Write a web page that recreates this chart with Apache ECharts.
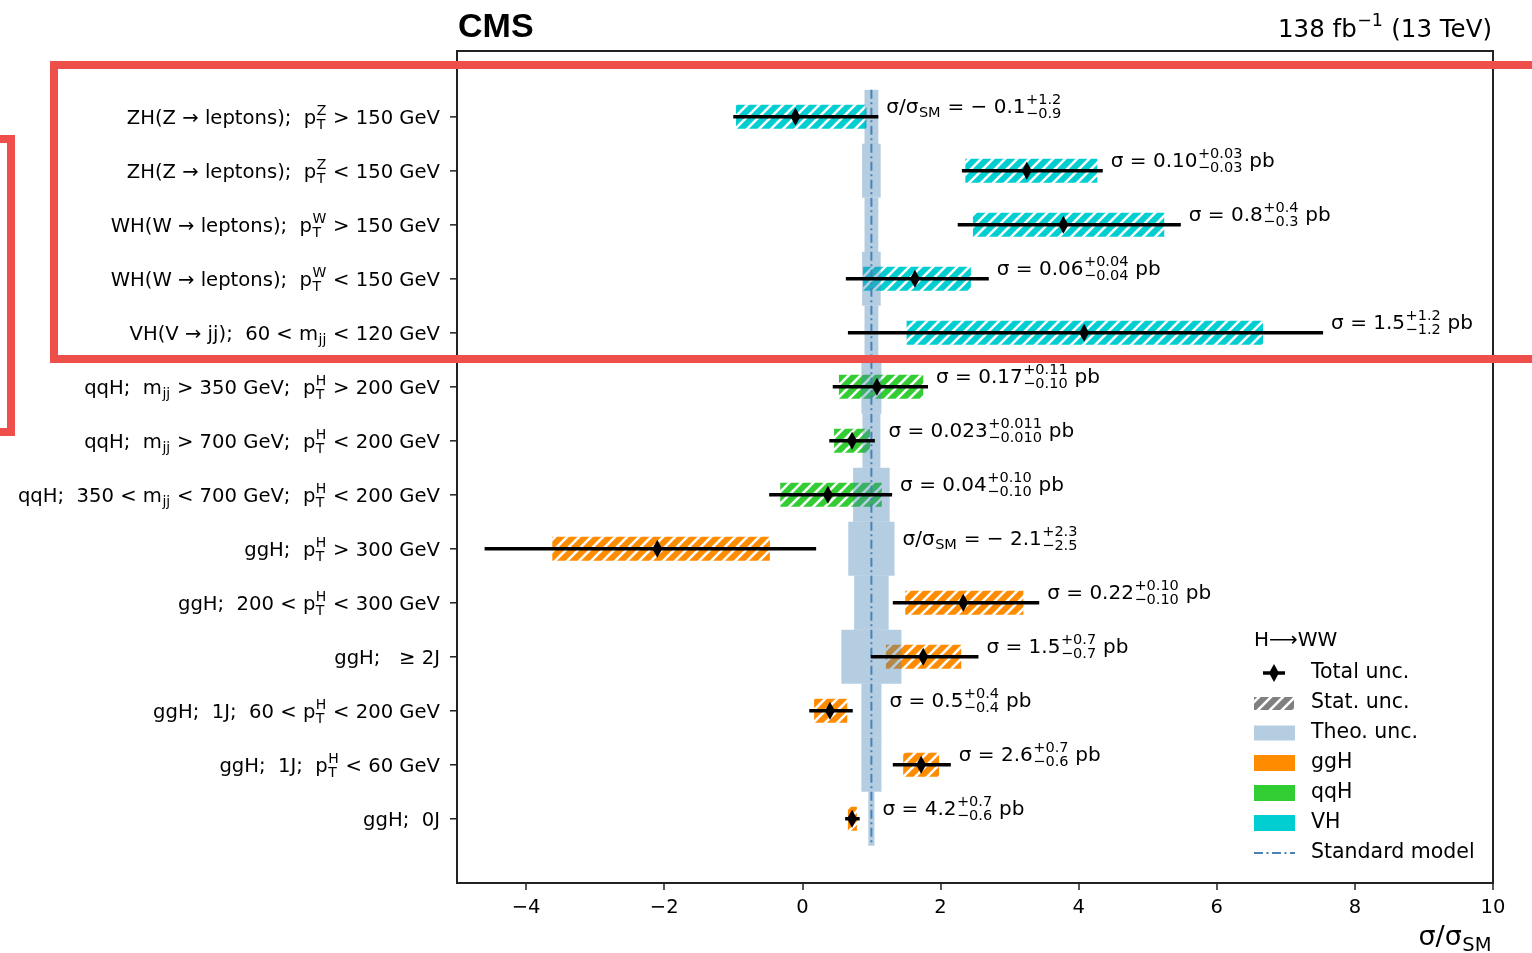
<!DOCTYPE html>
<html>
<head>
<meta charset="utf-8">
<script src="https://cdn.jsdelivr.net/npm/echarts@6/dist/echarts.min.js"></script>
<style>
  html, body { margin: 0; padding: 0; background: #fff; }
  #chart { width: 1532px; height: 953px; }
</style>
</head>
<body>
<div id="chart"></div>
<script>
// Signal-strength / cross-section summary for H -> WW production bins.
// Markup in label strings: ^{..} superscript, _{..} subscript (stacked when adjacent).
const categories = [
  'ZH(Z → leptons);  p^{Z}_{T} > 150 GeV',
  'ZH(Z → leptons);  p^{Z}_{T} < 150 GeV',
  'WH(W → leptons);  p^{W}_{T} > 150 GeV',
  'WH(W → leptons);  p^{W}_{T} < 150 GeV',
  'VH(V → jj);  60 < m_{jj} < 120 GeV',
  'qqH;  m_{jj} > 350 GeV;  p^{H}_{T} > 200 GeV',
  'qqH;  m_{jj} > 700 GeV;  p^{H}_{T} < 200 GeV',
  'qqH;  350 < m_{jj} < 700 GeV;  p^{H}_{T} < 200 GeV',
  'ggH;  p^{H}_{T} > 300 GeV',
  'ggH;  200 < p^{H}_{T} < 300 GeV',
  'ggH;   ≥ 2J',
  'ggH;  1J;  60 < p^{H}_{T} < 200 GeV',
  'ggH;  1J;  p^{H}_{T} < 60 GeV',
  'ggH;  0J'
];
const production = ['VH', 'VH', 'VH', 'VH', 'VH', 'qqH', 'qqH', 'qqH', 'ggH', 'ggH', 'ggH', 'ggH', 'ggH', 'ggH'];

// sigma / sigma_SM: best fit, total interval, statistical interval
const bestFit   = [-0.1, 3.25, 3.78, 1.63, 4.08, 1.08, 0.72, 0.37, -2.1, 2.33, 1.75, 0.40, 1.72, 0.72];
const totalLow  = [-1.0, 2.31, 2.25, 0.63, 0.66, 0.44, 0.39, -0.48, -4.6, 1.31, 0.99, 0.10, 1.31, 0.62];
const totalHigh = [ 1.1, 4.35, 5.48, 2.70, 7.54, 1.82, 1.05, 1.30, 0.2, 3.43, 2.55, 0.73, 2.15, 0.83];
const statLow   = [-0.96, 2.36, 2.47, 0.88, 1.51, 0.53, 0.46, -0.32, -3.62, 1.49, 1.21, 0.17, 1.46, 0.66];
const statHigh  = [ 0.93, 4.27, 5.24, 2.44, 6.67, 1.75, 0.98, 1.15, -0.47, 3.20, 2.30, 0.65, 1.98, 0.79];
// theory uncertainty on the SM prediction (half width around 1)
const theoHalfWidth = [0.10, 0.135, 0.10, 0.135, 0.10, 0.145, 0.13, 0.265, 0.335, 0.25, 0.435, 0.145, 0.145, 0.045];

const resultLabels = [
  'σ/σ_{SM} = − 0.1^{+1.2}_{−0.9}',
  'σ = 0.10^{+0.03}_{−0.03} pb',
  'σ = 0.8^{+0.4}_{−0.3} pb',
  'σ = 0.06^{+0.04}_{−0.04} pb',
  'σ = 1.5^{+1.2}_{−1.2} pb',
  'σ = 0.17^{+0.11}_{−0.10} pb',
  'σ = 0.023^{+0.011}_{−0.010} pb',
  'σ = 0.04^{+0.10}_{−0.10} pb',
  'σ/σ_{SM} = − 2.1^{+2.3}_{−2.5}',
  'σ = 0.22^{+0.10}_{−0.10} pb',
  'σ = 1.5^{+0.7}_{−0.7} pb',
  'σ = 0.5^{+0.4}_{−0.4} pb',
  'σ = 2.6^{+0.7}_{−0.6} pb',
  'σ = 4.2^{+0.7}_{−0.6} pb'
];

const xTickValues = [-4, -2, 0, 2, 4, 6, 8, 10];
const legendEntries = ['Total unc.', 'Stat. unc.', 'Theo. unc.', 'ggH', 'qqH', 'VH', 'Standard model'];

const COLORS = { ggH: '#ff8c00', qqH: '#32cd32', VH: '#00ced1' };
const THEO_FILL = 'rgba(70,130,180,0.4)';
const SM_COLOR = '#4a82b8';
const SM_DASH = [9, 3.5, 2, 3.5];
const FONT = '"DejaVu Sans", sans-serif';

// white diagonal hatching on a coloured tile
function hatch(color) {
  const c = document.createElement('canvas');
  c.width = 12; c.height = 12;
  const g = c.getContext('2d');
  g.fillStyle = color; g.fillRect(0, 0, 12, 12);
  g.strokeStyle = '#ffffff'; g.lineWidth = 2.6;
  g.beginPath();
  for (let k = -1; k <= 1; k++) { g.moveTo(k * 12 - 2, 14); g.lineTo(k * 12 + 14, -2); }
  g.stroke();
  return { image: c, repeat: 'repeat' };
}
const PATTERNS = { ggH: hatch(COLORS.ggH), qqH: hatch(COLORS.qqH), VH: hatch(COLORS.VH), stat: hatch('#808080') };

// ---- text with sub/superscripts ----
const mctx = document.createElement('canvas').getContext('2d');
function textWidth(t, size) {
  mctx.font = 'normal ' + size + 'px ' + FONT;
  return mctx.measureText(t).width;
}
function parseMarkup(s) {
  const out = [];
  let buf = '';
  let i = 0;
  while (i < s.length) {
    const ch = s[i];
    if ((ch === '^' || ch === '_') && s[i + 1] === '{') {
      const end = s.indexOf('}', i + 2);
      const content = s.slice(i + 2, end);
      if (buf) { out.push({ text: buf }); buf = ''; }
      const key = ch === '^' ? 'sup' : 'sub';
      const last = out[out.length - 1];
      if (last && last.script && !(key in last)) last[key] = content;
      else out.push({ script: true, [key]: content });
      i = end + 1;
      continue;
    }
    buf += ch;
    i++;
  }
  if (buf) out.push({ text: buf });
  return out;
}
function textEl(t, x, y, size, color) {
  return {
    type: 'text', x: x, y: y,
    style: {
      text: t, font: 'normal ' + size + 'px ' + FONT, fill: color || '#000',
      align: 'left', verticalAlign: 'middle', textAlign: 'left', textVerticalAlign: 'middle'
    }
  };
}
function richText(markup, x, y, size, align, color) {
  const toks = parseMarkup(markup);
  const ss = Math.round(size * 0.72 * 2) / 2;
  const widths = toks.map(t => t.text != null
    ? textWidth(t.text, size)
    : Math.max(t.sup != null ? textWidth(t.sup, ss) : 0, t.sub != null ? textWidth(t.sub, ss) : 0) + 1);
  const total = widths.reduce((a, b) => a + b, 0);
  let cx = align === 'right' ? x - total : x;
  const els = [];
  toks.forEach((t, k) => {
    if (t.text != null) {
      els.push(textEl(t.text, cx, y, size, color));
    } else {
      const both = t.sup != null && t.sub != null;
      if (t.sup != null) els.push(textEl(t.sup, cx + 0.5, y - size * 0.37, ss, color));
      if (t.sub != null) els.push(textEl(t.sub, cx + 0.5, y + size * (both ? 0.34 : 0.28), ss, color));
    }
    cx += widths[k];
  });
  return els;
}

function diamond(x, y, w, h) {
  return { type: 'polygon', shape: { points: [[x, y - h / 2], [x + w / 2, y], [x, y + h / 2], [x - w / 2, y]] }, style: { fill: '#000' } };
}

const rows = categories.map((c, i) => i);

const chart = echarts.init(document.getElementById('chart'), null, { renderer: 'canvas' });

const option = {
  animation: false,
  backgroundColor: '#ffffff',
  grid: { left: 457, right: 39, top: 51, bottom: 70, show: true, borderColor: '#222', borderWidth: 2, backgroundColor: 'transparent' },
  xAxis: {
    type: 'value', min: -5, max: 10, position: 'bottom',
    axisLine: { show: false, onZero: false },
    splitLine: { show: false },
    axisTick: { show: true, customValues: xTickValues, length: 7, lineStyle: { color: '#222', width: 1.5 } },
    axisLabel: {
      customValues: xTickValues, margin: 15, color: '#000', fontFamily: FONT, fontSize: 19.5,
      formatter: v => (v < 0 ? '−' + Math.abs(v) : String(v))
    }
  },
  yAxis: {
    type: 'value', min: -1.22, max: 14.19, inverse: true,
    axisLine: { show: false, onZero: false }, axisTick: { show: false }, axisLabel: { show: false }, splitLine: { show: false }
  },
  series: [
    {
      // statistical uncertainty, hatched by production mode
      name: 'stat', type: 'custom', z: 2, silent: true,
      data: rows.map(i => [statLow[i], i, statHigh[i]]),
      encode: { x: [0, 2], y: 1 },
      renderItem: (params, api) => {
        const i = params.dataIndex;
        const a = api.coord([api.value(0), api.value(1)]);
        const b = api.coord([api.value(2), api.value(1)]);
        return { type: 'rect', shape: { x: a[0], y: a[1] - 12, width: b[0] - a[0], height: 24 }, style: { fill: PATTERNS[production[i]] } };
      }
    },
    {
      // theory band around the SM expectation
      name: 'theo', type: 'custom', z: 3, silent: true,
      data: rows.map(i => [1 - theoHalfWidth[i], i, 1 + theoHalfWidth[i]]),
      encode: { x: [0, 2], y: 1 },
      renderItem: (params, api) => {
        const a = api.coord([api.value(0), api.value(1) - 0.5]);
        const b = api.coord([api.value(2), api.value(1) + 0.5]);
        return { type: 'rect', shape: { x: a[0], y: a[1], width: b[0] - a[0], height: b[1] - a[1] }, style: { fill: THEO_FILL } };
      }
    },
    {
      name: 'Standard model', type: 'line', z: 4, silent: true, symbol: 'none',
      data: [[1, -0.5], [1, categories.length - 0.5]],
      lineStyle: { color: SM_COLOR, width: 2, type: SM_DASH }
    },
    {
      // total uncertainty bar and best-fit marker
      name: 'total', type: 'custom', z: 5, silent: true,
      data: rows.map(i => [totalLow[i], i, totalHigh[i], bestFit[i]]),
      encode: { x: [0, 2, 3], y: 1 },
      renderItem: (params, api) => {
        const a = api.coord([api.value(0), api.value(1)]);
        const b = api.coord([api.value(2), api.value(1)]);
        const m = api.coord([api.value(3), api.value(1)]);
        return {
          type: 'group', children: [
            { type: 'line', shape: { x1: a[0], y1: a[1], x2: b[0], y2: b[1] }, style: { stroke: '#000', lineWidth: 3.5 } },
            diamond(m[0], m[1], 10, 18)
          ]
        };
      }
    },
    {
      // result text beside each row
      name: 'labels', type: 'custom', z: 6, silent: true,
      data: rows.map(i => [Math.max(totalHigh[i], statHigh[i], 1 + theoHalfWidth[i]), i]),
      encode: { x: 0, y: 1 },
      renderItem: (params, api) => {
        const p = api.coord([api.value(0), api.value(1)]);
        return { type: 'group', children: richText(resultLabels[params.dataIndex], p[0] + 8, p[1] - 9, 20, 'left') };
      }
    },
    {
      // category names and ticks on the left axis
      name: 'categories', type: 'custom', z: 6, silent: true,
      data: rows.map(i => [-5, i]),
      encode: { x: 0, y: 1 },
      renderItem: (params, api) => {
        const p = api.coord([api.value(0), api.value(1)]);
        return {
          type: 'group', children: [
            { type: 'line', shape: { x1: p[0] - 7, y1: p[1], x2: p[0], y2: p[1] }, style: { stroke: '#222', lineWidth: 1.5 } },
            ...richText(categories[params.dataIndex], p[0] - 17, p[1] + 2, 19.6, 'right')
          ]
        };
      }
    }
  ],
  graphic: { elements: [] }
};

// header, axis title, legend and highlight frames
const g = [];
g.push({ type: 'text', x: 458, y: 28, style: { text: 'CMS', font: 'bold 34px "Liberation Sans", Arial, sans-serif', fill: '#000', align: 'left', verticalAlign: 'middle', textAlign: 'left', textVerticalAlign: 'middle' } });
g.push(...richText('138 fb^{−1} (13 TeV)', 1492, 31, 24.5, 'right'));
g.push(...richText('σ/σ_{SM}', 1492, 938, 27, 'right'));

const LX = 1254;
const legendY = [673, 703, 733, 763, 793, 823, 853];
g.push(textEl('H⟶WW', LX, 641, 20));
g.push({ type: 'line', shape: { x1: LX + 9, y1: legendY[0], x2: LX + 31, y2: legendY[0] }, style: { stroke: '#000', lineWidth: 3.5 } });
g.push(diamond(LX + 20, legendY[0], 10, 18));
g.push({ type: 'rect', shape: { x: LX, y: legendY[1] - 6, width: 40, height: 13 }, style: { fill: PATTERNS.stat } });
g.push({ type: 'rect', shape: { x: LX, y: legendY[2] - 7.5, width: 41, height: 15 }, style: { fill: THEO_FILL } });
g.push({ type: 'rect', shape: { x: LX, y: legendY[3] - 8, width: 41, height: 16 }, style: { fill: COLORS.ggH } });
g.push({ type: 'rect', shape: { x: LX, y: legendY[4] - 8, width: 41, height: 16 }, style: { fill: COLORS.qqH } });
g.push({ type: 'rect', shape: { x: LX, y: legendY[5] - 8, width: 41, height: 16 }, style: { fill: COLORS.VH } });
g.push({ type: 'line', shape: { x1: LX, y1: legendY[6], x2: LX + 41, y2: legendY[6] }, style: { stroke: SM_COLOR, lineWidth: 2, lineDash: SM_DASH } });
legendEntries.forEach((t, k) => g.push(textEl(t, LX + 57, legendY[k], 20.5)));

// red highlight frames
g.push({ type: 'rect', z: 100, shape: { x: 54, y: 65, width: 1600, height: 294 }, style: { fill: 'none', stroke: '#ef4f4a', lineWidth: 8 } });
g.push({ type: 'rect', z: 100, shape: { x: -100, y: 139, width: 111, height: 293 }, style: { fill: 'none', stroke: '#ef4f4a', lineWidth: 8 } });

option.graphic.elements = g;
chart.setOption(option);
</script>
</body>
</html>
